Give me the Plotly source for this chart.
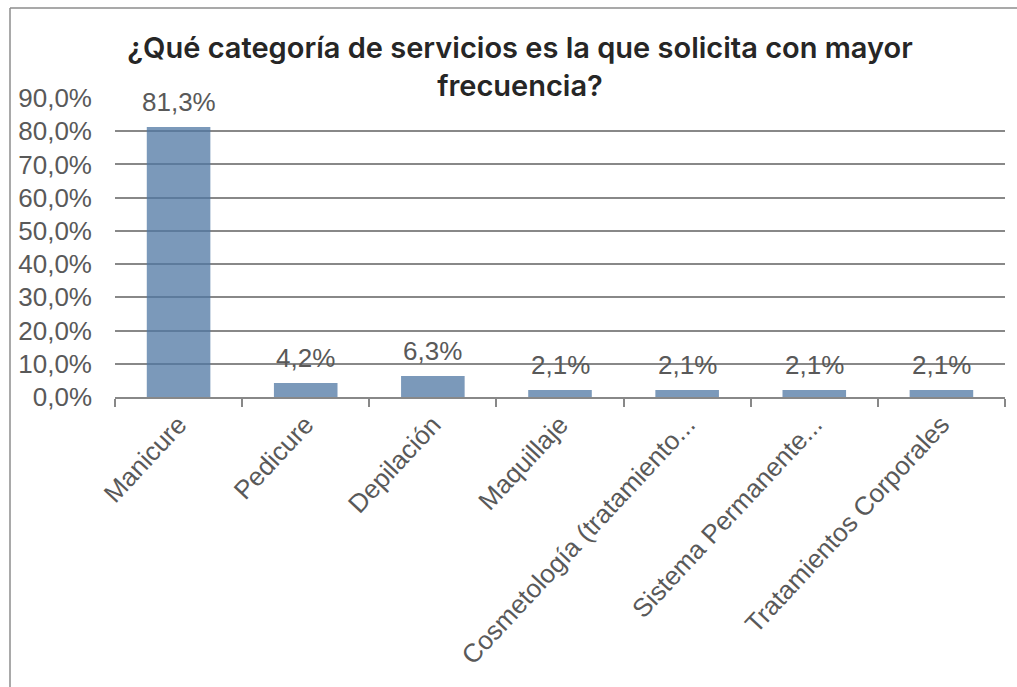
import plotly.graph_objects as go

categories = ["Manicure", "Pedicure", "Depilación", "Maquillaje",
              "Cosmetología (tratamiento...", "Sistema Permanente...",
              "Tratamientos Corporales"]
values = [81.3, 4.2, 6.3, 2.1, 2.1, 2.1, 2.1]
y_ticks = [0, 10, 20, 30, 40, 50, 60, 70, 80, 90]
y_tick_text = [f"{t:.1f}%".replace(".", ",") for t in y_ticks]

FONT = "Liberation Sans, Arial, sans-serif"
TITLE_FONT = "Inter, Liberation Sans, sans-serif"
GRID = "#888888"
TEXT = "#595959"

fig = go.Figure()
# semi-transparent bars so the gridlines show through them
fig.add_trace(go.Bar(x=categories, y=values, marker_color="#4F77A3",
                     opacity=0.75, marker_line_width=0))

# value labels above each bar
for c, v in zip(categories, values):
    fig.add_annotation(x=c, y=v, text=f"{v:.1f}%".replace(".", ","),
                       showarrow=False, yanchor="bottom", yshift=8,
                       font=dict(size=26, color=TEXT, family=FONT))

fig.update_layout(
    width=1017, height=687,
    margin=dict(l=115, r=12, t=98, b=290),
    paper_bgcolor="white", plot_bgcolor="white",
    bargap=0.5, showlegend=False,
    font=dict(family=FONT, color=TEXT),
    title=dict(text="¿Qué categoría de servicios es la que solicita con mayor<br>frecuencia?",
               x=520 / 1017, xanchor="center", xref="container",
               y=1 - 58 / 687, yanchor="top", yref="container",
               font=dict(size=29, color="#262626", family=TITLE_FONT, weight=600)),
    xaxis=dict(showline=True, linecolor=GRID, linewidth=2,
               ticks="outside", tickson="boundaries", ticklen=8, tickcolor=GRID,
               tickwidth=2, tickangle=-47,
               tickfont=dict(size=26, color=TEXT, family=FONT)),
    yaxis=dict(range=[0, 90], tickvals=y_ticks, ticktext=y_tick_text,
               showgrid=True, gridcolor=GRID, gridwidth=2, zeroline=False,
               showline=False, ticks="", ticklabelstandoff=22,
               tickfont=dict(size=26, color=TEXT, family=FONT)),
    # chart frame (left and top edges)
    shapes=[dict(type="line", xref="paper", yref="paper",
                 x0=(10 - 115) / 890, x1=(1017 - 115) / 890,
                 y0=(687 - 8 - 290) / 299, y1=(687 - 8 - 290) / 299,
                 line=dict(color="#8c8c8c", width=1.5)),
            dict(type="line", xref="paper", yref="paper",
                 x0=(10 - 115) / 890, x1=(10 - 115) / 890,
                 y0=(687 - 8 - 290) / 299, y1=-290 / 299,
                 line=dict(color="#8c8c8c", width=1.5))],
)

fig.write_html("out.html")
